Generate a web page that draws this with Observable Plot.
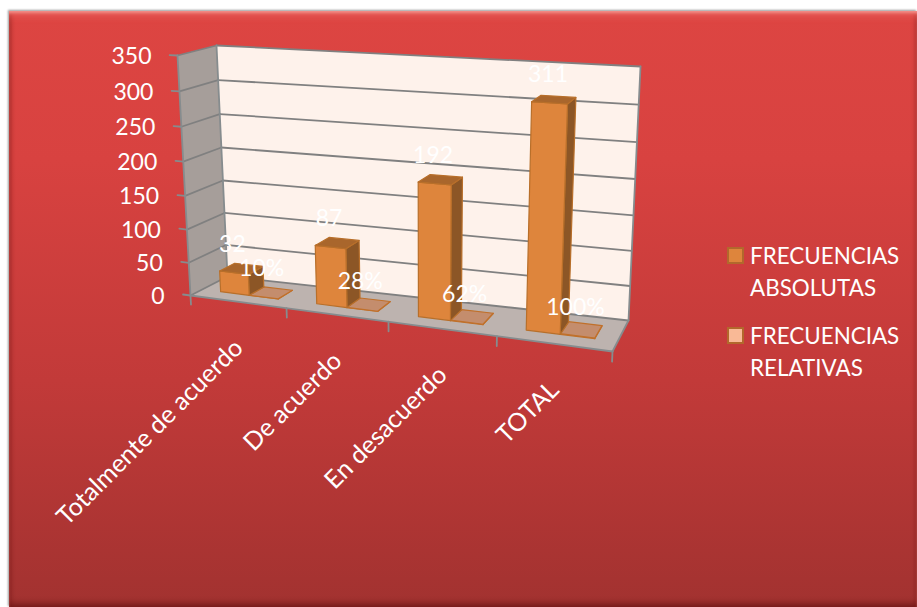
<!DOCTYPE html>
<html lang="es">
<head>
<meta charset="utf-8">
<script src="https://cdn.jsdelivr.net/npm/d3@7"></script>
<script src="https://cdn.jsdelivr.net/npm/@observablehq/plot@0.6"></script>
<style>
  html, body { margin: 0; padding: 0; background: #fff; overflow: hidden; }
  #panel {
    position: absolute; left: 9px; top: 11px; width: 908px; height: 596px;
    background: linear-gradient(#dd4542 0%, #d84240 25%, #c23a39 62%, #a23230 100%);
    box-shadow: -1px -1px 2px #9a9a9a,
      inset 0 3px 3px -1px #f4908a, inset 0 10px 8px -6px #e8605a,
      inset 3px 0 4px -1px rgba(90, 10, 10, .40),
      inset -4px 0 4px -2px rgba(90, 10, 10, .30),
      inset 0 -7px 6px -3px rgba(70, 5, 5, .40);
  }
  #chart { position: absolute; left: 0; top: 0; }
  #chart svg { background: transparent; overflow: visible; display: block; }
  .legend { position: absolute; left: 727px; color: #fff; font: 22.4px/32px Lato, sans-serif; }
  .legend i { position: absolute; left: 0; top: 7px; width: 13px; height: 13px; border: 2px solid #b2682c; }
  .legend span { display: block; margin-left: 23px; white-space: nowrap; }
</style>
</head>
<body>
<div id="panel"></div>
<div id="chart"></div>
<div id="legend"></div>
<script>
// Survey responses, absolute counts and their share of the total
const categories = ["Totalmente de acuerdo", "De acuerdo", "En desacuerdo", "TOTAL"];
const absolutas = [32, 87, 192, 311];
const relativas = [0.10, 0.28, 0.62, 1.00];
const yTicks = [0, 50, 100, 150, 200, 250, 300, 350];
const seriesNames = [["FRECUENCIAS", "ABSOLUTAS"], ["FRECUENCIAS", "RELATIVAS"]];

const yMax = 350;
const FONT = "Lato, sans-serif";

// Corners of the 3D box: bottom-left, bottom-right, top-right, top-left
const backPlane = [[227, 276], [628, 320], [640, 66], [216, 45]];
const frontPlane = [[190, 295], [612, 351], [624, 81], [177, 55]];

// Four-point perspective map from the unit square onto a quadrilateral
function homography([p0, p1, p2, p3]) {
  const dx1 = p1[0] - p2[0], dx2 = p3[0] - p2[0], sx = p0[0] - p1[0] + p2[0] - p3[0];
  const dy1 = p1[1] - p2[1], dy2 = p3[1] - p2[1], sy = p0[1] - p1[1] + p2[1] - p3[1];
  const det = dx1 * dy2 - dx2 * dy1;
  const g = (sx * dy2 - dx2 * sy) / det, h = (dx1 * sy - sx * dy1) / det;
  const a = p1[0] - p0[0] + g * p1[0], b = p3[0] - p0[0] + h * p3[0];
  const d = p1[1] - p0[1] + g * p1[1], e = p3[1] - p0[1] + h * p3[1];
  return (u, v) => {
    const w = g * u + h * v + 1;
    return [(a * u + b * v + p0[0]) / w, (d * u + e * v + p0[1]) / w];
  };
}
const back = homography(backPlane);
const front = homography(frontPlane);

// Pixel shift from the front plane to a given depth at (x, y)
function depthShift(x, y, z) {
  const v = y / yMax, [bx, by] = back(x, v), [fx, fy] = front(x, v);
  return [(bx - fx) * (1 - z), (by - fy) * (1 - z)];
}

// Data space: x is the position along the categories (0..1), y the value, z the depth (0 back, 1 front)
const perspective = d3.geoTransform({
  point(x, y, z = 1) {
    const v = y / yMax, [bx, by] = back(x, v), [fx, fy] = front(x, v);
    this.stream.point(bx + (fx - bx) * z, by + (fy - by) * z);
  }
});

const poly = (points, fill, stroke) => ({
  type: "Feature",
  properties: {fill, stroke},
  geometry: {type: "Polygon", coordinates: [[...points, points[0]]]}
});
const seg = (a, b) => ({type: "LineString", coordinates: [a, b]});

// Walls and floor
const walls = [
  poly([[0, 0, 0], [1, 0, 0], [1, yMax, 0], [0, yMax, 0]], "#fef2eb"),
  poly([[0, 0, 1], [0, 0, 0], [0, yMax, 0], [0, yMax, 1]], "#a69e9a"),
  poly([[0, 0, 1], [1, 0, 1], [1, 0, 0], [0, 0, 0]], "#bdb3af")
];

// Gridlines run along the back wall and down the side wall
const grid = yTicks.flatMap(t => [seg([0, t, 1], [0, t, 0]), seg([0, t, 0], [1, t, 0])]);
const axisLines = [
  seg([0, 0, 1], [0, yMax, 1]), seg([0, 0, 1], [1, 0, 1]), seg([1, 0, 1], [1, 0, 0]),
  seg([1, 0, 0], [1, yMax, 0]), seg([0, yMax, 0], [0, 0, 0]),
  ...yTicks.map(t => seg([-0.02, t, 1], [0, t, 1])),
  ...d3.range(categories.length + 1).map(i => seg([i / categories.length, -14, 1], [i / categories.length, 0, 1]))
];

// Clustered columns: each category holds two columns with a gap either side
const step = 1 / categories.length;
const barWidth = step / 3.3;
const zBack = 0.27, zFront = 0.68;
function barFaces(x0, x1, value, colors) {
  return [
    poly([[x1, 0, zFront], [x1, 0, zBack], [x1, value, zBack], [x1, value, zFront]], colors.side, colors.edge),
    poly([[x0, 0, zFront], [x1, 0, zFront], [x1, value, zFront], [x0, value, zFront]], colors.front, colors.edge),
    poly([[x0, value, zFront], [x1, value, zFront], [x1, value, zBack], [x0, value, zBack]], colors.top, colors.edge)
  ];
}
const absColors = {front: "#de853c", side: "#8c5626", top: "#a9662c", edge: "#b86f2a"};
const relColors = {front: "#c48d6d", side: "#c48d6d", top: "#c48d6d", edge: "#c0702a"};
const bars = categories.flatMap((c, i) => {
  const center = (i + 0.5) * step;
  return [
    ...barFaces(center, center + barWidth, relativas[i], relColors),
    ...barFaces(center - barWidth, center, absolutas[i], absColors)
  ];
});

const labelStyle = {fill: "white", fontFamily: FONT, fontSize: 23};

// A value label sits above the front top edge of its column
function valueLabel(value, x, text, offsetX, offsetY) {
  const [sx, sy] = depthShift(x, value, zFront);
  return Plot.text([value], {
    x: () => x, y: d => d, text: () => text,
    dx: sx + offsetX, dy: sy + offsetY, ...labelStyle
  });
}

const chart = Plot.plot({
  width: 917,
  height: 607,
  margin: 0,
  projection: perspective,
  color: {type: "identity"},
  style: {background: "transparent"},
  marks: [
    Plot.geo(walls, {fill: d => d.properties.fill}),
    Plot.geo({type: "GeometryCollection", geometries: grid}, {stroke: "#808080", strokeWidth: 1.8}),
    Plot.geo({type: "GeometryCollection", geometries: axisLines}, {stroke: "#868c8e", strokeWidth: 1.8}),
    Plot.geo(bars, {fill: d => d.properties.fill, stroke: d => d.properties.stroke, strokeWidth: 1.2, strokeLinejoin: "round"}),
    // Value axis labels
    Plot.text(yTicks, {x: 0, y: d => d, text: d => String(d), textAnchor: "end", dx: -26, dy: 1, ...labelStyle}),
    // Category labels, rotated under the floor
    Plot.text(categories, {
      x: (d, i) => (i + 0.5) * step, y: 0, text: d => d,
      rotate: -45, textAnchor: "end", dx: 1, dy: 42, ...labelStyle, fontSize: 25
    }),
    // Data labels
    ...absolutas.map((d, i) => valueLabel(d, (i + 0.5) * step - barWidth / 2, String(d), -1.5, -28)),
    ...relativas.map((d, i) => valueLabel(d, (i + 0.5) * step + barWidth / 2, d3.format(".0%")(d), -2, -28))
  ]
});
document.getElementById("chart").append(chart);

// Legend beside the plot
const legendTops = [240, 320];
const swatchFills = ["#de853c", "#f9b996"];
const legend = document.getElementById("legend");
seriesNames.forEach((lines, i) => {
  const item = document.createElement("div");
  item.className = "legend";
  item.style.top = legendTops[i] + "px";
  const swatch = document.createElement("i");
  swatch.style.background = swatchFills[i];
  item.append(swatch);
  lines.forEach(line => {
    const span = document.createElement("span");
    span.textContent = line;
    item.append(span);
  });
  legend.append(item);
});
</script>
</body>
</html>
